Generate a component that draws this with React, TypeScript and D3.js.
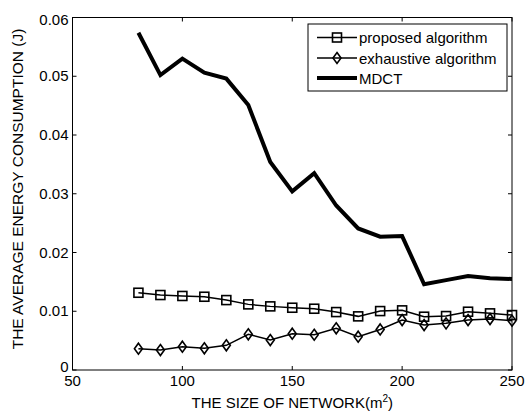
import React, { useRef, useEffect } from 'react';
import * as d3 from 'd3';

const networkSizes = [80, 90, 100, 110, 120, 130, 140, 150, 160, 170, 180, 190, 200, 210, 220, 230, 240, 250];
const proposed = [0.01315, 0.01276, 0.0126, 0.01247, 0.0119, 0.01117, 0.01083, 0.0106, 0.01043, 0.00986, 0.00913, 0.01003, 0.01015, 0.00907, 0.00918, 0.00992, 0.00964, 0.00935];
const exhaustive = [0.00362, 0.0034, 0.00397, 0.00369, 0.0042, 0.00607, 0.0051, 0.00618, 0.006, 0.0071, 0.00567, 0.0069, 0.0085, 0.00765, 0.00794, 0.0085, 0.00867, 0.0084];
const mdct = [0.0574, 0.0502, 0.053, 0.0506, 0.0496, 0.0451, 0.0354, 0.0304, 0.0335, 0.028, 0.0241, 0.0227, 0.0228, 0.0146, 0.0153, 0.016, 0.0156, 0.0155];
const xTicks = [50, 100, 150, 200, 250];
const yTicks = [0, 0.01, 0.02, 0.03, 0.04, 0.05, 0.06];
const legendLabels = ['proposed algorithm', 'exhaustive algorithm', 'MDCT'];

const FONT = 'Arial, "Liberation Sans", sans-serif';

const App = () => {
  const svgRef = useRef(null);

  useEffect(() => {
    const width = 528;
    const height = 414;
    const margin = { top: 17.5, right: 16, bottom: 44, left: 72.5 };

    const svg = d3.select(svgRef.current)
      .attr('width', width)
      .attr('height', height)
      .style('background', 'white');

    svg.selectAll('*').remove();

    const x = d3.scaleLinear().domain([50, 250]).range([margin.left, width - margin.right]);
    const y = d3.scaleLinear().domain([0, 0.06]).range([height - margin.bottom, margin.top]);

    const [x0, x1] = x.range();
    const [y0, y1] = y.range();
    const tickLen = 4;

    const g = svg.append('g');

    // box
    g.append('rect')
      .attr('x', x0).attr('y', y1)
      .attr('width', x1 - x0).attr('height', y0 - y1)
      .attr('fill', 'none').attr('stroke', '#000').attr('stroke-width', 1);

    // ticks inward on all sides
    xTicks.forEach(t => {
      g.append('line').attr('x1', x(t)).attr('x2', x(t)).attr('y1', y0).attr('y2', y0 - tickLen).attr('stroke', '#000');
      g.append('line').attr('x1', x(t)).attr('x2', x(t)).attr('y1', y1).attr('y2', y1 + tickLen).attr('stroke', '#000');
      g.append('text')
        .attr('x', x(t)).attr('y', y0 + 16)
        .attr('text-anchor', 'middle')
        .attr('font-family', FONT).attr('font-size', 15)
        .text(t);
    });
    yTicks.forEach(t => {
      g.append('line').attr('x1', x0).attr('x2', x0 + tickLen).attr('y1', y(t)).attr('y2', y(t)).attr('stroke', '#000');
      g.append('line').attr('x1', x1).attr('x2', x1 - tickLen).attr('y1', y(t)).attr('y2', y(t)).attr('stroke', '#000');
      g.append('text')
        .attr('x', x0 - 4).attr('y', y(t) + (t === 0.06 ? 7 : t === 0 ? 2 : 5))
        .attr('text-anchor', 'end')
        .attr('font-family', FONT).attr('font-size', 15)
        .text(t === 0 ? '0' : d3.format('.2f')(t));
    });

    // axis labels
    const xl = svg.append('text')
      .attr('x', (x0 + x1) / 2).attr('y', 408)
      .attr('text-anchor', 'middle')
      .attr('font-family', FONT).attr('font-size', 15);
    xl.append('tspan').text('THE SIZE OF NETWORK(m');
    xl.append('tspan').attr('dy', -6).attr('font-size', 10).text('2');
    xl.append('tspan').attr('dy', 6).text(')');

    svg.append('text')
      .attr('transform', `translate(23, ${189}) rotate(-90)`)
      .attr('text-anchor', 'middle')
      .attr('font-family', FONT).attr('font-size', 15.5)
      .text('THE AVERAGE ENERGY CONSUMPTION (J)');

    const line = d3.line().x(d => x(d[0])).y(d => y(d[1]));
    const pts = vals => networkSizes.map((s, i) => [s, vals[i]]);

    const square = (sel, cx, cy) => sel.append('rect')
      .attr('x', cx - 4.5).attr('y', cy - 4.5).attr('width', 9).attr('height', 9)
      .attr('fill', 'none').attr('stroke', '#000').attr('stroke-width', 1.6);
    const diamond = (sel, cx, cy) => sel.append('path')
      .attr('d', `M${cx},${cy - 5.5}L${cx + 4},${cy}L${cx},${cy + 5.5}L${cx - 4},${cy}Z`)
      .attr('fill', 'none').attr('stroke', '#000').attr('stroke-width', 1.6);

    // exhaustive
    g.append('path').datum(pts(exhaustive)).attr('d', line)
      .attr('fill', 'none').attr('stroke', '#000').attr('stroke-width', 1.5);
    networkSizes.forEach((s, i) => diamond(g, x(s), y(exhaustive[i])));

    // proposed
    g.append('path').datum(pts(proposed)).attr('d', line)
      .attr('fill', 'none').attr('stroke', '#000').attr('stroke-width', 1.5);
    networkSizes.forEach((s, i) => square(g, x(s), y(proposed[i])));

    // MDCT
    g.append('path').datum(pts(mdct)).attr('d', line)
      .attr('fill', 'none').attr('stroke', '#000').attr('stroke-width', 4)
      .attr('stroke-linejoin', 'miter');

    // legend
    const lg = svg.append('g');
    lg.append('rect')
      .attr('x', 308).attr('y', 24).attr('width', 199).attr('height', 67)
      .attr('fill', 'white').attr('stroke', '#000').attr('stroke-width', 1);
    const rowY = [37.5, 58, 78];
    legendLabels.forEach((lab, i) => {
      lg.append('line')
        .attr('x1', 317).attr('x2', 357).attr('y1', rowY[i]).attr('y2', rowY[i])
        .attr('stroke', '#000').attr('stroke-width', i === 2 ? 4 : 1.5);
      if (i === 0) square(lg, 337, rowY[i]);
      if (i === 1) diamond(lg, 337, rowY[i]);
      lg.append('text')
        .attr('x', 359).attr('y', rowY[i] + 5.5)
        .attr('font-family', FONT).attr('font-size', 15)
        .text(lab);
    });
  }, []);

  return <svg ref={svgRef} style={{ position: 'absolute', left: 0, top: 0 }}></svg>;
};

export default App;
